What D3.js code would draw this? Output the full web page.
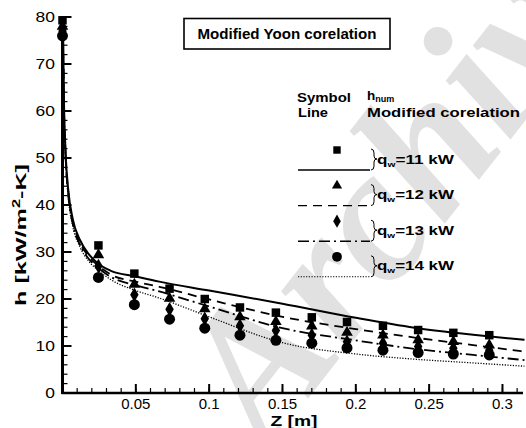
<!DOCTYPE html>
<html>
<head>
<meta charset="utf-8">
<script src="https://cdn.jsdelivr.net/npm/d3@7"></script>
<style>
  body { margin: 0; background: #fff; }
  svg { display: block; font-family: "Liberation Sans", Arial, sans-serif; }
</style>
</head>
<body>
<svg id="chart" width="526" height="428"></svg>
<script>
// measured points (symbols)
const z_pts = [0, 0.0245, 0.049, 0.073, 0.097, 0.121, 0.1455, 0.17, 0.194, 0.2185, 0.2425, 0.2665, 0.291];
const h_11 = [79.3, 31.4, 25.4, 22.2, 20.0, 18.2, 17.1, 16.1, 15.1, 14.3, 13.4, 12.8, 12.3];
const h_12 = [78.0, 29.4, 23.1, 20.1, 17.9, 16.2, 15.2, 14.2, 12.9, 12.3, 11.3, 10.9, 10.2];
const h_13 = [77.0, 27.0, 20.9, 17.8, 15.8, 14.3, 13.3, 12.3, 10.9, 10.6, 9.9, 9.5, 9.1];
const h_14 = [76.0, 24.6, 18.8, 15.7, 13.8, 12.3, 11.2, 10.6, 9.6, 9.1, 8.6, 8.3, 8.1];

// correlation curves
const z_line = [0.0003, 0.001, 0.002, 0.004, 0.007, 0.012, 0.018, 0.024, 0.033, 0.05, 0.066, 0.1, 0.15, 0.2, 0.24, 0.28, 0.315];
const c_11 = [79, 62, 52, 43, 37, 32.5, 29.5, 27.6, 26.0, 24.8, 23.7, 21.8, 19.0, 16.0, 13.9, 12.4, 11.3];
const c_12 = [78.5, 61, 51.5, 42.5, 36.5, 32, 29, 27.2, 25.2, 23.7, 22.6, 19.9, 16.2, 13.6, 11.8, 10.2, 8.8];
const c_13 = [78, 60.5, 51, 42, 36, 31.5, 28.5, 26.7, 24.7, 22.9, 21.6, 18.4, 13.8, 11.2, 9.4, 8.1, 7.0];
const c_14 = [77.5, 60, 50.5, 41.5, 35.5, 31, 28, 26.2, 24.1, 21.8, 20.2, 16.2, 10.7, 8.3, 7.2, 6.4, 5.7];

const series_labels = ["11", "12", "13", "14"];
const x_ticks = [0.05, 0.1, 0.15, 0.2, 0.25, 0.3];
const y_ticks = [0, 10, 20, 30, 40, 50, 60, 70, 80];

const svg = d3.select("#chart");

const x_scale = d3.scaleLinear().domain([0, 0.314]).range([62.5, 523]);
const y_scale = d3.scaleLinear().domain([0, 80]).range([393, 17]);

// watermark
svg.append("text")
    .attr("transform", "translate(267,451) rotate(-52)")
    .attr("font-family", "Liberation Serif, serif")
    .attr("font-weight", "bold")
    .attr("font-style", "italic")
    .attr("font-size", 190)
    .attr("fill", "#c4c4c4")
    .attr("opacity", 0.5)
    .text("Archive");

// axes
const minor_x = d3.range(0.01, 0.3141, 0.01);
const minor_y = d3.range(2, 80, 2);

const axes = svg.append("g");
axes.selectAll(".xminor").data(minor_x).join("line")
    .attr("x1", d => x_scale(d)).attr("x2", d => x_scale(d))
    .attr("y1", y_scale(0)).attr("y2", y_scale(0) - 5)
    .attr("stroke", "#000").attr("stroke-width", 1.2);
axes.selectAll(".xmajor").data(x_ticks).join("line")
    .attr("x1", d => x_scale(d)).attr("x2", d => x_scale(d))
    .attr("y1", y_scale(0)).attr("y2", y_scale(0) - 9)
    .attr("stroke", "#000").attr("stroke-width", 2);
axes.selectAll(".yminor").data(minor_y).join("line")
    .attr("x1", x_scale(0)).attr("x2", x_scale(0) + 5)
    .attr("y1", d => y_scale(d)).attr("y2", d => y_scale(d))
    .attr("stroke", "#000").attr("stroke-width", 1.2);
axes.selectAll(".ymajor").data(y_ticks).join("line")
    .attr("x1", x_scale(0)).attr("x2", x_scale(0) + 9)
    .attr("y1", d => y_scale(d)).attr("y2", d => y_scale(d))
    .attr("stroke", "#000").attr("stroke-width", 2);

axes.append("line")
    .attr("x1", x_scale(0) - 1).attr("x2", 523)
    .attr("y1", y_scale(0)).attr("y2", y_scale(0))
    .attr("stroke", "#000").attr("stroke-width", 2.5);
axes.append("line")
    .attr("x1", x_scale(0)).attr("x2", x_scale(0))
    .attr("y1", y_scale(80) - 1).attr("y2", y_scale(0) + 1)
    .attr("stroke", "#000").attr("stroke-width", 3);

axes.selectAll(".xlab").data(x_ticks).join("text")
    .attr("x", d => x_scale(d)).attr("y", 409)
    .attr("text-anchor", "middle").attr("font-size", 15)
    .text(d => d);
axes.selectAll(".ylab").data(y_ticks).join("text")
    .attr("x", 55).attr("y", d => y_scale(d) + 5)
    .attr("text-anchor", "end").attr("font-size", 14.5)
    .attr("textLength", d => String(d).length * 9.7)
    .attr("lengthAdjust", "spacingAndGlyphs")
    .text(d => d);

svg.append("text")
    .attr("x", 294).attr("y", 426)
    .attr("text-anchor", "middle").attr("font-size", 15.5).attr("font-weight", "bold")
    .attr("textLength", 47).attr("lengthAdjust", "spacingAndGlyphs")
    .text("Z [m]");

const ytitle = svg.append("text")
    .attr("transform", "translate(26,235) rotate(-90)")
    .attr("text-anchor", "middle").attr("font-size", 15.5).attr("font-weight", "bold")
    .attr("textLength", 142).attr("lengthAdjust", "spacingAndGlyphs");
ytitle.append("tspan").text("h [kW/m");
ytitle.append("tspan").attr("dy", -6).attr("font-size", 10).text("2");
ytitle.append("tspan").attr("dy", 6).text("-K]");

// curves
const dashes = ["none", "9,6", "11,4,2,4", "1.2,1.5"];
const widths = [2, 1.8, 1.8, 1.3];
const curves = [c_11, c_12, c_13, c_14];
const line = d3.line()
    .x(d => x_scale(d[0]))
    .y(d => y_scale(d[1]))
    .curve(d3.curveMonotoneX);

curves.forEach((c, i) => {
    svg.append("path")
        .datum(z_line.map((z, j) => [z, c[j]]))
        .attr("d", line)
        .attr("fill", "none")
        .attr("stroke", "#000")
        .attr("stroke-width", widths[i])
        .attr("stroke-dasharray", dashes[i]);
});

// symbols
const symbols = [
    d3.symbol().type(d3.symbolSquare).size(72),
    d3.symbol().type(d3.symbolTriangle).size(58),
    d3.symbol().type(d3.symbolDiamond).size(62),
    d3.symbol().type(d3.symbolCircle).size(95)
];
const points = [h_11, h_12, h_13, h_14];
[3, 2, 1, 0].forEach(i => {
    svg.append("g").selectAll("path")
        .data(z_pts.map((z, j) => [z, points[i][j]]))
        .join("path")
        .attr("transform", d => `translate(${x_scale(d[0])},${y_scale(d[1])})`)
        .attr("d", symbols[i]())
        .attr("fill", "#000");
});

// title box
svg.append("rect")
    .attr("x", 184).attr("y", 18.5).attr("width", 206).attr("height", 30.5)
    .attr("fill", "#fff").attr("stroke", "#000").attr("stroke-width", 1.6);
svg.append("text")
    .attr("x", 287).attr("y", 38.5)
    .attr("text-anchor", "middle").attr("font-size", 14).attr("font-weight", "bold")
    .attr("textLength", 179).attr("lengthAdjust", "spacingAndGlyphs")
    .text("Modified Yoon corelation");

// legend
const legend = svg.append("g").attr("font-weight", "bold").attr("font-size", 13.5);
legend.append("text").attr("x", 297).attr("y", 101.5)
    .attr("textLength", 54).attr("lengthAdjust", "spacingAndGlyphs").text("Symbol");
legend.append("text").attr("x", 298).attr("y", 116.5)
    .attr("textLength", 30).attr("lengthAdjust", "spacingAndGlyphs").text("Line");
const hn = legend.append("text").attr("x", 367).attr("y", 100);
hn.append("tspan").text("h");
hn.append("tspan").attr("dy", 2).attr("font-size", 9).text("num");
legend.append("text").attr("x", 367).attr("y", 116.5)
    .attr("textLength", 153).attr("lengthAdjust", "spacingAndGlyphs").text("Modified corelation");

const legend_symbols = [
    d3.symbol().type(d3.symbolSquare).size(55),
    d3.symbol().type(d3.symbolTriangle).size(45),
    d3.symbol().type(d3.symbolDiamond).size(50),
    d3.symbol().type(d3.symbolCircle).size(75)
];
series_labels.forEach((lab, i) => {
    const y0 = 150 + i * 35.6;
    legend.append("path")
        .attr("transform", `translate(337,${y0})`)
        .attr("d", legend_symbols[i]())
        .attr("fill", "#000");
    legend.append("line")
        .attr("x1", 298).attr("x2", 370)
        .attr("y1", y0 + 20).attr("y2", y0 + 20)
        .attr("stroke", "#000")
        .attr("stroke-width", widths[i] * 0.8)
        .attr("stroke-dasharray", dashes[i]);
    legend.append("path")
        .attr("d", `M371,${y0 - 1} q3,0 3,4 v3 q0,3 3,3 q-3,0 -3,3 v4 q0,4 -3,4`)
        .attr("fill", "none").attr("stroke", "#000").attr("stroke-width", 1);
    const t = legend.append("text").attr("x", 377).attr("y", y0 + 13.5)
        .attr("textLength", 77).attr("lengthAdjust", "spacingAndGlyphs");
    t.append("tspan").text("q");
    t.append("tspan").attr("dy", 3).attr("font-size", 8).text("w");
    t.append("tspan").attr("dy", -3).text("=" + lab + " kW");
});
</script>
</body>
</html>
